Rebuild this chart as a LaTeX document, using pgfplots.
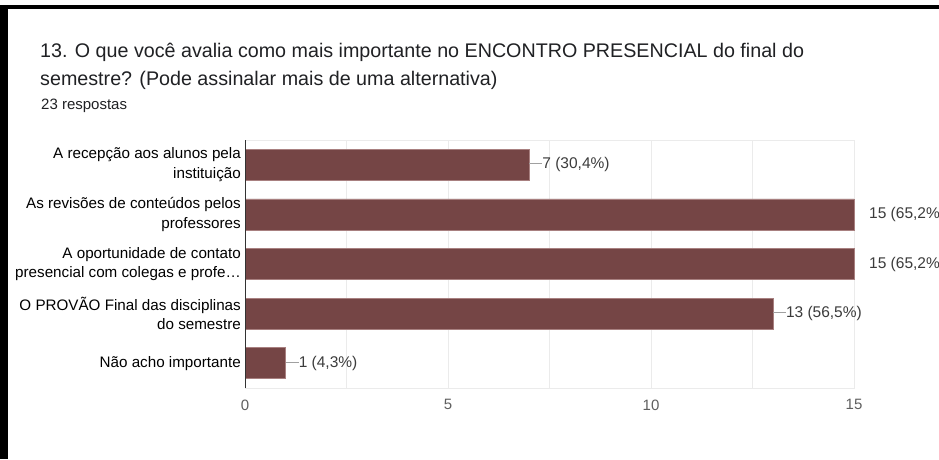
\documentclass[border=0pt]{standalone}
\usepackage{pgfplots}
\pgfplotsset{compat=1.18}
\usepackage{fontspec}
\setmainfont{Liberation Sans}
\definecolor{barRed}{HTML}{754545}
\definecolor{barEdge}{HTML}{A88080}
\definecolor{gridGray}{HTML}{EBEBEB}
\definecolor{axisGray}{HTML}{333333}
\definecolor{tickGray}{HTML}{5F5F5F}
\definecolor{labGray}{HTML}{3C3C3C}
\definecolor{leadGray}{HTML}{A0A0A0}
\definecolor{titleInk}{HTML}{202124}

\begin{document}
\begin{tikzpicture}
  \path[use as bounding box, fill=white] (0pt,0pt) rectangle (939pt,-459pt);
  % black frame of the screenshot
  \fill[black] (0pt,-5pt) rectangle (939pt,-9pt);
  \fill[black] (0pt,-5pt) rectangle (8pt,-459pt);

  \node[anchor=base west, inner sep=0pt, text=titleInk, font=\fontsize{19.7}{22}\selectfont]
    at (40pt,-57pt) {13. O que você avalia como mais importante no ENCONTRO PRESENCIAL do final do};
  \node[anchor=base west, inner sep=0pt, text=titleInk, font=\fontsize{19.7}{22}\selectfont]
    at (40pt,-85pt) {semestre? (Pode assinalar mais de uma alternativa)};
  \node[anchor=base west, inner sep=0pt, text=titleInk, font=\fontsize{15}{16}\selectfont]
    at (41pt,-109pt) {23 respostas};

  \begin{axis}[
      at={(245pt,-388pt)}, anchor=south west,
      scale only axis, width=609pt, height=248pt,
      xbar, bar width=31pt, bar shift=0pt,
      xmin=0, xmax=15,
      ymin=-0.5, ymax=4.5, y dir=reverse,
      xtick={0,5,10,15}, minor xtick={2.5,7.5,12.5},
      ytick={0,1,2,3,4},
      yticklabels={{A recepção aos alunos pela\\instituição},
                   {As revisões de conteúdos pelos\\professores},
                   {A oportunidade de contato\\presencial com colegas e profe…},
                   {O PROVÃO Final das disciplinas\\do semestre},
                   {Não acho importante}},
      yticklabel style={align=right, font=\fontsize{15.2}{19.5}\selectfont, text=black, inner sep=0pt, xshift=-4pt},
      xticklabel style={font=\fontsize{15}{16}\selectfont, text=tickGray, yshift=-8pt},
      /pgf/number format/assume math mode=true,
      major tick length=0pt, minor tick length=0pt,
      xmajorgrids, xminorgrids,
      major grid style={gridGray, line width=1pt},
      minor grid style={gridGray, line width=1pt},
      axis line style={gridGray, line width=1pt},
      clip=false,
      point meta=explicit symbolic,
      nodes near coords style={font=\fontsize{15.5}{16}\selectfont, text=labGray, anchor=west, inner sep=0pt},
    ]
    \addplot[fill=barRed, draw=barEdge, line width=0.6pt]
      coordinates {(7,0) (15,1) (15,2) (13,3) (1,4)};
    % labels with a leader line
    \addplot[draw=none, fill=none, nodes near coords={\textcolor{leadGray}{\rule[0.3em]{13pt}{0.9pt}}\pgfplotspointmeta}]
      coordinates {(7,0) [7 (30,4\%)] (13,3) [13 (56,5\%)] (1,4) [1 (4,3\%)]};
    % labels for the longest bars, set off to the right
    \addplot[draw=none, fill=none, nodes near coords={\pgfplotspointmeta},
             every node near coord/.append style={xshift=15pt}]
      coordinates {(15,1) [15 (65,2\%] (15,2) [15 (65,2\%]};
    \draw[axisGray, line width=1pt] (axis cs:0,-0.5) -- (axis cs:0,4.5);
  \end{axis}
\end{tikzpicture}
\end{document}
